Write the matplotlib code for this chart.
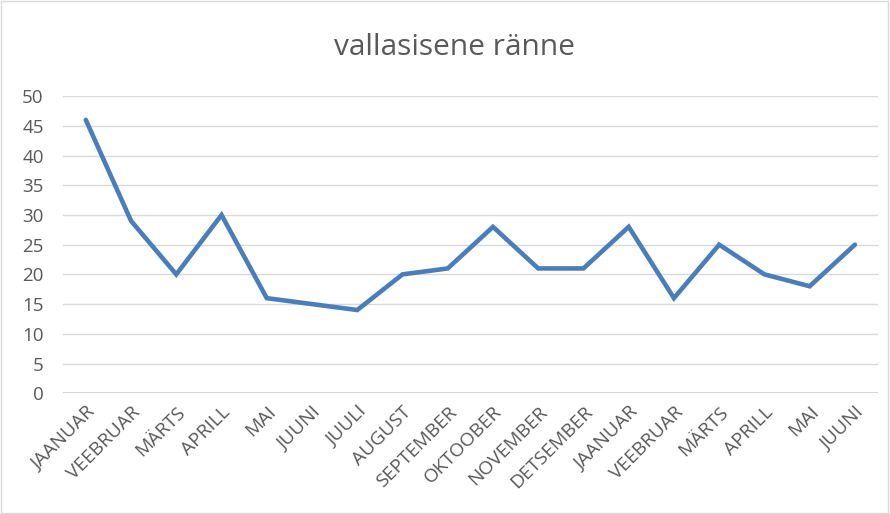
import matplotlib.pyplot as plt
from matplotlib.patches import Rectangle

# monthly values
months = ["JAANUAR", "VEEBRUAR", "MÄRTS", "APRILL", "MAI", "JUUNI", "JUULI",
          "AUGUST", "SEPTEMBER", "OKTOOBER", "NOVEMBER", "DETSEMBER",
          "JAANUAR", "VEEBRUAR", "MÄRTS", "APRILL", "MAI", "JUUNI"]
values = [46, 29, 20, 30, 16, 15, 14, 20, 21, 28, 21, 21, 28, 16, 25, 20, 18, 25]
yticks = [0, 5, 10, 15, 20, 25, 30, 35, 40, 45, 50]

plt.rcParams['font.family'] = ['Open Sans', 'DejaVu Sans']

fig = plt.figure(figsize=(8.9, 5.14), dpi=100)
ax = fig.add_axes([0.071, 0.235, 0.915, 0.578])

x = list(range(len(months)))
ax.plot(x, values, color="#4A7EBB", lw=3.3, solid_joinstyle="miter", solid_capstyle="round")

ax.set_xlim(-0.5, len(months) - 0.5)
ax.set_ylim(0, 50)
ax.set_yticks(yticks)
ax.set_xticks(x)
ax.set_xticklabels(months, rotation=45, ha="right", rotation_mode="anchor")
ax.grid(axis="y", color="#D9D9D9", lw=1)
ax.set_axisbelow(True)
for s in ax.spines.values():
    s.set_visible(False)
ax.axhline(0, color="#D0D0D0", lw=1.2, zorder=1)
ax.tick_params(length=0, colors="#595959", labelsize=13.5)
ax.tick_params(axis="x", labelsize=13.8, pad=7)
ax.tick_params(axis="y", pad=14)

fig.text(0.511, 0.908, "vallasisene ränne", ha="center", va="center",
         fontsize=21.5, color="#595959")

# outer chart border
fig.patches.append(Rectangle((0.001, 0.001), 0.997, 0.997, transform=fig.transFigure,
                             fill=False, edgecolor="#D9D9D9", lw=1))

fig.savefig("out.png", dpi=100)
